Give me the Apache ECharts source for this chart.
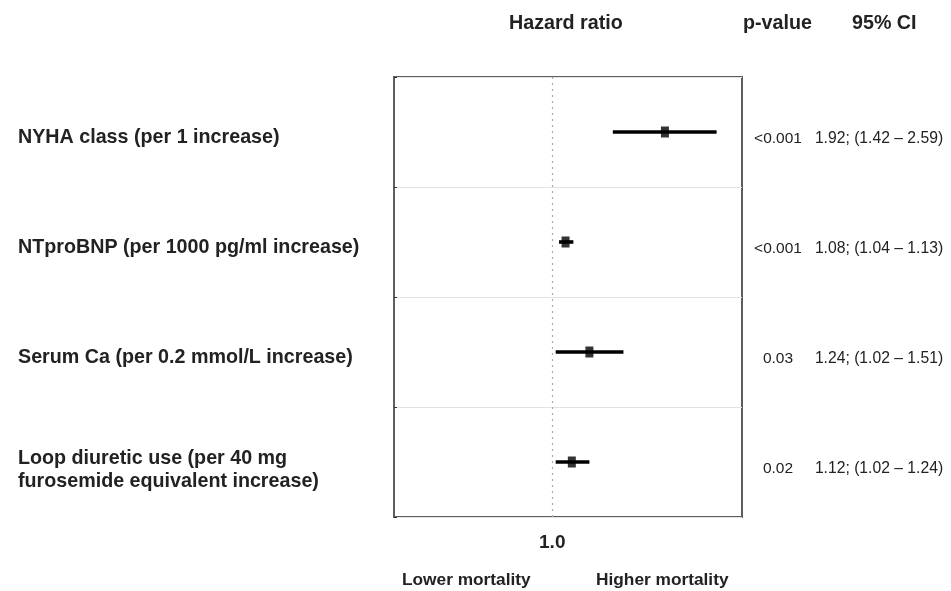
<!DOCTYPE html>
<html>
<head>
<meta charset="utf-8">
<script src="https://cdn.jsdelivr.net/npm/echarts@6/dist/echarts.min.js"></script>
<style>html,body{margin:0;padding:0;background:#fff;}#c{width:951px;height:591px;}</style>
</head>
<body>
<div id="c"></div>
<script>
const categories = [
  'NYHA class (per 1 increase)',
  'NTproBNP (per 1000 pg/ml increase)',
  'Serum Ca (per 0.2 mmol/L increase)',
  'Loop diuretic use (per 40 mg\nfurosemide equivalent increase)'
];
const hazardRatio = [1.92, 1.08, 1.24, 1.12];
const ciLow = [1.42, 1.04, 1.02, 1.02];
const ciHigh = [2.59, 1.13, 1.51, 1.24];
const pValues = ['<0.001', '<0.001', '0.03', '0.02'];
const xTickValues = [1];
const xTickLabels = ['1.0'];
const headers = ['Hazard ratio', 'p-value', '95% CI'];
const footers = ['Lower mortality', 'Higher mortality'];

const FONT = '"Liberation Sans", Arial, sans-serif';
const ciText = hazardRatio.map((h, i) => h.toFixed(2) + '; (' + ciLow[i].toFixed(2) + ' \u2013 ' + ciHigh[i].toFixed(2) + ')');
const labStyle = {fontFamily: FONT, fontWeight: 'bold', fontSize: 19.7, color: '#222', lineHeight: 24};

const chart = echarts.init(document.getElementById('c'), null, {renderer: 'canvas'});
chart.setOption({
  animation: false,
  backgroundColor: '#fff',
  grid: {left: 394, right: 209, top: 77, bottom: 74, show: true, borderColor: '#5e5e5e', borderWidth: 2, backgroundColor: 'transparent'},
  xAxis: {
    type: 'log', logBase: 10, min: 0.4, max: 3.0,
    axisLine: {show: false}, axisTick: {show: false}, splitLine: {show: false},
    axisLabel: {
      customValues: xTickValues,
      formatter: (v) => { const k = xTickValues.findIndex(t => Math.abs(t - v) < 1e-9); return k >= 0 ? xTickLabels[k] : ''; },
      fontFamily: FONT, fontWeight: 'bold', fontSize: 19, color: '#222', margin: 16
    }
  },
  yAxis: [{
    type: 'category', inverse: true, data: categories,
    axisLine: {show: false},
    axisTick: {show: true, inside: true, length: 3, lineStyle: {color: '#333'}},
    splitLine: {show: true, lineStyle: {color: '#e3e3e3', width: 1}},
    axisLabel: {
      align: 'left', margin: 376, lineHeight: 24,
      formatter: (v) => {
        const parts = v.split('\n');
        if (parts.length === 1) return '{a|' + parts[0] + '}';
        return '{c|' + parts[0] + '}\n{b|' + parts[1] + '}';
      },
      rich: {
        a: Object.assign({padding: [12, 0, 0, 0]}, labStyle),
        c: Object.assign({padding: [17, 0, 0, 0]}, labStyle),
        b: Object.assign({padding: [16, 0, 0, 0]}, labStyle)
      }
    }
  }, {
    type: 'category', inverse: true, data: categories, position: 'right',
    axisLine: {show: false}, axisTick: {show: false}, splitLine: {show: false},
    axisLabel: {
      align: 'left', margin: 10,
      formatter: (v, i) => '{p|' + pValues[i] + '}{ci|' + ciText[i] + '}',
      rich: {
        p: {width: 52, align: 'center', fontFamily: FONT, fontSize: 15.5, color: '#222', padding: [14, 0, 0, 0]},
        ci: {width: 150, align: 'center', fontFamily: FONT, fontSize: 15.7, color: '#222', padding: [14, 0, 0, 0]}
      }
    }
  }],
  series: [{
    type: 'custom',
    data: categories.map((c, i) => [ciLow[i], ciHigh[i], i]),
    encode: {x: [0, 1], y: 2},
    renderItem: (params, api) => {
      const a = api.coord([api.value(0), api.value(2)]);
      const b = api.coord([api.value(1), api.value(2)]);
      return {type: 'line', shape: {x1: a[0], y1: a[1], x2: b[0], y2: b[1]}, style: {stroke: '#000', lineWidth: 3.6}};
    },
    silent: true, z: 3
  }, {
    type: 'scatter',
    data: categories.map((c, i) => [hazardRatio[i], i]),
    symbol: 'rect', symbolSize: [8, 11],
    itemStyle: {color: '#000'}, silent: true, z: 4,
    markLine: {
      silent: true, symbol: 'none', label: {show: false},
      lineStyle: {type: [2, 4], color: '#aaa', width: 1.2},
      data: [{xAxis: xTickValues[0]}]
    }
  }],
  graphic: [
    {type: 'text', left: 509, top: 14, style: {text: headers[0], font: 'bold 19.7px ' + FONT, fill: '#222'}},
    {type: 'text', left: 743, top: 14, style: {text: headers[1], font: 'bold 19.7px ' + FONT, fill: '#222'}},
    {type: 'text', left: 852, top: 14, style: {text: headers[2], font: 'bold 19.7px ' + FONT, fill: '#222'}},
    {type: 'text', left: 402, top: 572, style: {text: footers[0], font: 'bold 17.3px ' + FONT, fill: '#222'}},
    {type: 'text', left: 596, top: 572, style: {text: footers[1], font: 'bold 17.3px ' + FONT, fill: '#222'}}
  ]
});
</script>
</body>
</html>
